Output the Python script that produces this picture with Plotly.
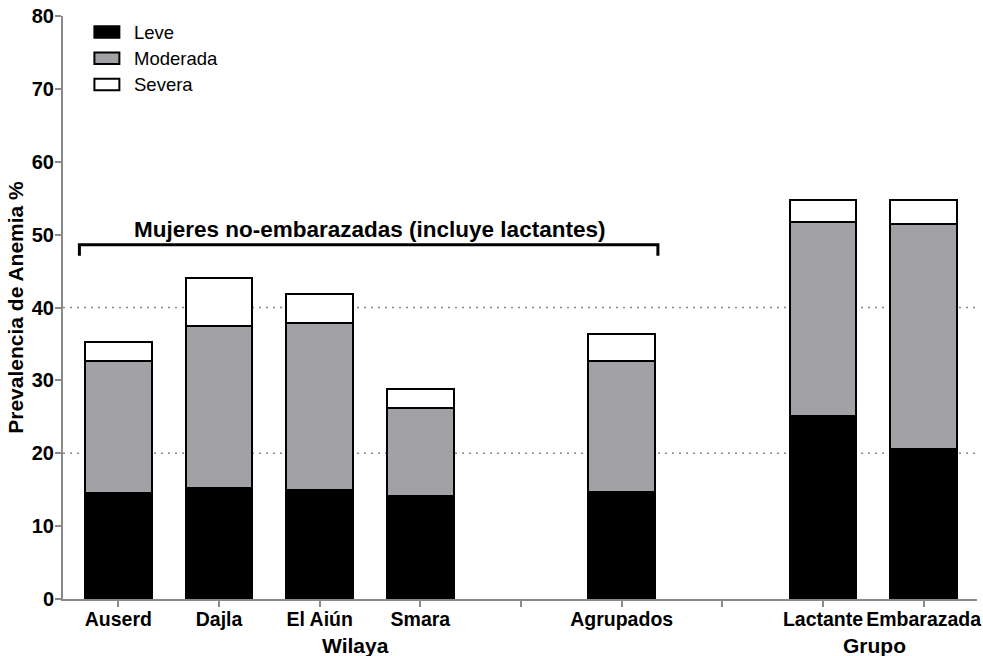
import plotly.graph_objects as go

categories = ["Auserd", "Dajla", "El Aiún", "Smara", "", "Agrupados", "", "Lactante", "Embarazada"]
positions = [0, 1, 2, 3, 5, 7, 8]
bar_labels = ["Auserd", "Dajla", "El Aiún", "Smara", "Agrupados", "Lactante", "Embarazada"]
leve = [14.5, 15.2, 15.0, 14.1, 14.7, 25.1, 20.6]
moderada_top = [32.7, 37.4, 37.9, 26.2, 32.7, 51.7, 51.4]
severa_top = [35.2, 44.0, 41.8, 28.8, 36.3, 54.7, 54.8]
moderada = [round(m - l, 2) for m, l in zip(moderada_top, leve)]
severa = [round(s - m, 2) for s, m in zip(severa_top, moderada_top)]

series_names = ["Leve", "Moderada", "Severa"]
series_colors = ["#000000", "#a2a1a6", "#ffffff"]
y_ticks = [0, 10, 20, 30, 40, 50, 60, 70, 80]
grid_values = [20, 40]

FONT = "Liberation Sans, Arial, sans-serif"

fig = go.Figure()
for name, vals, col in zip(series_names, [leve, moderada, severa], series_colors):
    fig.add_trace(go.Bar(
        x=positions, y=vals, name=name, width=0.665,
        marker=dict(color=col, line=dict(color="#000000", width=2)),
        showlegend=False,
    ))

shapes = []
# dotted gridlines
for g in grid_values:
    shapes.append(dict(type="line", xref="paper", yref="y", x0=0, x1=1, y0=g, y1=g,
                       line=dict(color="#888888", width=1.6, dash="2px,5px"), layer="below"))
# bracket
bx0, bx1, by, byd = -0.387, 5.36, 48.6, 47.1
shapes.append(dict(type="path", xref="x", yref="y",
                   path=f"M {bx0},{byd} L {bx0},{by} L {bx1},{by} L {bx1},{byd}",
                   line=dict(color="#000000", width=3)))

annotations = [
    dict(x=2.49, y=by, xref="x", yref="y", text="<b>Mujeres no-embarazadas (incluye lactantes)</b>",
         showarrow=False, yanchor="bottom", yshift=1, font=dict(family=FONT, size=22.5, color="#000")),
    dict(x=2.36, y=0, xref="x", yref="paper", text="<b>Wilaya</b>", showarrow=False,
         yanchor="middle", yshift=-46, font=dict(family=FONT, size=21, color="#000")),
    dict(x=7.51, y=0, xref="x", yref="paper", text="<b>Grupo</b>", showarrow=False,
         yanchor="middle", yshift=-46, font=dict(family=FONT, size=21, color="#000")),
]

# manual legend
leg_y = [77.8, 74.2, 70.6]
for name, col, ly in zip(series_names, series_colors, leg_y):
    shapes.append(dict(type="rect", xref="x", yref="y", x0=-0.238, x1=0.01,
                       y0=ly - 0.8, y1=ly + 0.8, fillcolor=col,
                       line=dict(color="#000000", width=2)))
    annotations.append(dict(x=0.14, y=ly, xref="x", yref="y", text=name, showarrow=False,
                            xanchor="left", yanchor="middle",
                            font=dict(family=FONT, size=18.5, color="#000")))

fig.update_layout(
    barmode="stack",
    width=983, height=656,
    margin=dict(l=63, r=6, t=16, b=57, autoexpand=False),
    plot_bgcolor="#ffffff", paper_bgcolor="#ffffff",
    font=dict(family=FONT, color="#000000"),
    shapes=shapes, annotations=annotations,
    xaxis=dict(range=[-0.55, 8.53], tickmode="array", tickvals=list(range(len(categories))),
               ticktext=[f"<b>{c}</b>" if c else "" for c in categories],
               automargin=False, ticklabelstandoff=-4,
               showgrid=False, zeroline=False, showline=True, linecolor="#8a8a8a", linewidth=2,
               ticks="outside", ticklen=6, tickwidth=2, tickcolor="#8a8a8a",
               tickfont=dict(family=FONT, size=19.5, color="#000")),
    yaxis=dict(range=[0, 80], tickmode="array", tickvals=y_ticks,
               ticktext=[f"<b>{t}</b>" for t in y_ticks],
               automargin=False, ticklabelstandoff=-3,
               showgrid=False, zeroline=False, showline=True, linecolor="#8a8a8a", linewidth=2,
               ticks="outside", ticklen=6, tickwidth=2, tickcolor="#8a8a8a",
               tickfont=dict(family=FONT, size=20, color="#000"),
               title=dict(text="<b>Prevalencia de Anemia %</b>", font=dict(family=FONT, size=21, color="#000"),
                          standoff=2)),
)

fig.write_html("out.html", config={"displayModeBar": False},
               post_script="document.body.style.margin='0';document.body.style.overflow='hidden';")
